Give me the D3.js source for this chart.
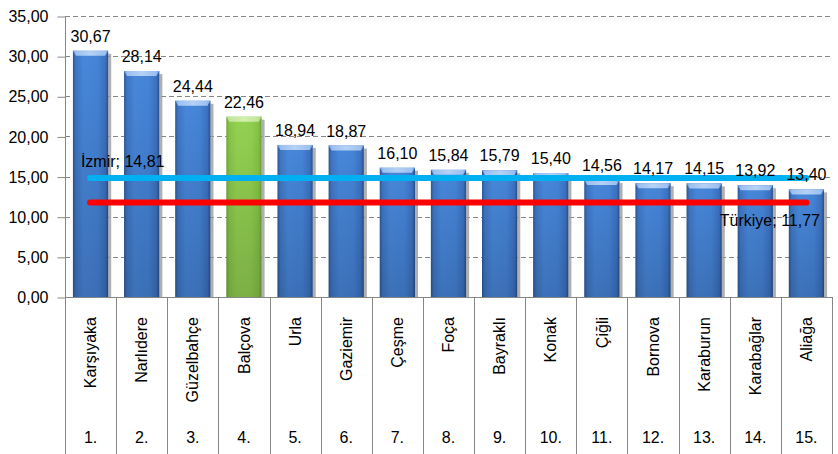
<!DOCTYPE html>
<html><head><meta charset="utf-8">
<script src="https://cdn.jsdelivr.net/npm/d3@7"></script>
<style>
html,body{margin:0;padding:0;background:#fff;}
svg text{font-family:"Liberation Sans",Arial,sans-serif;}
</style></head>
<body>
<svg id="chart" width="838" height="454"></svg>
<script>
const categories = ["Karşıyaka","Narlıdere","Güzelbahçe","Balçova","Urla","Gaziemir","Çeşme","Foça","Bayraklı","Konak","Çiğli","Bornova","Karaburun","Karabağlar","Aliağa"];
const ranks = ["1.","2.","3.","4.","5.","6.","7.","8.","9.","10.","11.","12.","13.","14.","15."];
const values = [30.67,28.14,24.44,22.46,18.94,18.87,16.10,15.84,15.79,15.40,14.56,14.17,14.15,13.92,13.40];
const highlight = ["Balçova"];
const yTicks = [0,5,10,15,20,25,30,35];
const refLines = [
  {name:"İzmir", value:14.81, color:"#00b0f0"},
  {name:"Türkiye", value:11.77, color:"#ff0000"}
];

const fmt = v => v.toFixed(2).replace(".", ",");
const svg = d3.select("#chart");
const L = 65, R = 832, T = 16, B = 297, H = 454;

const x = d3.scaleBand().domain(categories).range([L, R]).paddingInner(0.31).paddingOuter(0.155);
const y = d3.scaleLinear().domain([0, 35]).range([B, T]);

// gradients
const defs = svg.append("defs");
function hGrad(id, stops){
  const g = defs.append("linearGradient").attr("id", id).attr("x1","0").attr("x2","1").attr("y1","0").attr("y2","0");
  stops.forEach(s => g.append("stop").attr("offset", s[0]).attr("stop-color", s[1]));
}
function vGrad(id, stops){
  const g = defs.append("linearGradient").attr("id", id).attr("x1","0").attr("x2","0").attr("y1","0").attr("y2","1");
  stops.forEach(s => g.append("stop").attr("offset", s[0]).attr("stop-color", s[1][0]).attr("stop-opacity", s[1][1]));
}
hGrad("blueBody", [["0%","#2c5796"],["8%","#3e76c4"],["30%","#4887da"],["70%","#4584d8"],["92%","#3b71c0"],["100%","#284f8a"]]);
hGrad("greenBody", [["0%","#6ea83a"],["8%","#86c548"],["30%","#94d252"],["70%","#92d050"],["92%","#84c246"],["100%","#68a034"]]);
hGrad("blueTop", [["0%","#6b9de0"],["10%","#9cc0f0"],["50%","#b5d1f5"],["90%","#9cc0f0"],["100%","#6b9de0"]]);
hGrad("greenTop", [["0%","#a8d878"],["10%","#c2e69a"],["50%","#d2efb0"],["90%","#c2e69a"],["100%","#a8d878"]]);
vGrad("shade", [["0%",["#000",0]],["100%",["#000",0.16]]]);

// gridlines
svg.append("g").selectAll("line").data(yTicks.filter(t => t > 0)).join("line")
  .attr("x1", L).attr("x2", R).attr("y1", d => Math.round(y(d)) + 0.5).attr("y2", d => Math.round(y(d)) + 0.5)
  .attr("stroke", "#878787").attr("stroke-width", 1).attr("stroke-dasharray", "5,3");

// y axis
const yAxis = svg.append("g").attr("transform", `translate(${L + 0.5},0.5)`)
  .call(d3.axisLeft(y).tickValues(yTicks).tickFormat(fmt).tickSize(8).tickPadding(9));
yAxis.select(".domain").remove();
yAxis.selectAll(".tick line").attr("stroke", "#878787");
yAxis.selectAll(".tick text").attr("font-size", 16).attr("fill", "#000")
  .attr("font-family", '"Liberation Sans",Arial,sans-serif');

// table / category axis lines
const half = (x.step() - x.bandwidth()) / 2;
const bounds = categories.map(c => x(c) - half).concat([R]);
svg.append("g").selectAll("line").data(bounds).join("line")
  .attr("x1", d => Math.round(d) + 0.5).attr("x2", d => Math.round(d) + 0.5)
  .attr("y1", (d, i) => i === 0 ? T : B).attr("y2", H)
  .attr("stroke", "#878787");
svg.append("line").attr("x1", L).attr("x2", R).attr("y1", B + 0.5).attr("y2", B + 0.5).attr("stroke", "#878787");

// bars
const bars = svg.append("g").selectAll("g").data(categories).join("g");
const isG = c => highlight.includes(c);
bars.append("rect") // shadow
  .attr("x", c => x(c) + x.bandwidth()).attr("width", 3)
  .attr("y", (c, i) => y(values[i]) + 3).attr("height", (c, i) => B - y(values[i]) - 3)
  .attr("fill", "#9c9c9c").attr("opacity", 0.8);
bars.append("rect")
  .attr("x", c => x(c)).attr("width", x.bandwidth())
  .attr("y", (c, i) => y(values[i])).attr("height", (c, i) => B - y(values[i]))
  .attr("fill", c => isG(c) ? "url(#greenBody)" : "url(#blueBody)");
bars.append("rect")
  .attr("x", c => x(c)).attr("width", x.bandwidth())
  .attr("y", (c, i) => y(values[i])).attr("height", (c, i) => B - y(values[i]))
  .attr("fill", "url(#shade)");
bars.append("path") // top bevel
  .attr("d", (c, i) => {
    const x0 = x(c), x1 = x(c) + x.bandwidth(), t = y(values[i]);
    return `M${x0},${t}L${x1},${t}L${x1 - 3},${t + 5}L${x0 + 3},${t + 5}Z`;
  })
  .attr("fill", c => isG(c) ? "url(#greenTop)" : "url(#blueTop)");

// reference lines
const cx = c => x(c) + x.bandwidth() / 2;
svg.append("g").selectAll("line").data(refLines).join("line")
  .attr("x1", cx(categories[0]) - 0.5).attr("x2", cx(categories[categories.length - 1]))
  .attr("y1", d => y(d.value)).attr("y2", d => y(d.value))
  .attr("stroke", d => d.color).attr("stroke-width", 6).attr("stroke-linecap", "round");

// reference labels
svg.append("text").attr("x", x(categories[0]) + 8).attr("y", y(refLines[0].value) - 11)
  .attr("font-size", 16).attr("fill", "#000").text(`${refLines[0].name}; ${fmt(refLines[0].value)}`);
svg.append("text").attr("x", R - 12).attr("y", y(refLines[1].value) + 23).attr("text-anchor", "end")
  .attr("font-size", 16).attr("fill", "#000").text(`${refLines[1].name}; ${fmt(refLines[1].value)}`);

// value labels
svg.append("g").selectAll("text").data(categories).join("text")
  .attr("x", c => cx(c)).attr("y", (c, i) => y(values[i]) - 9)
  .attr("text-anchor", "middle").attr("font-size", 16).attr("fill", "#000")
  .text((c, i) => fmt(values[i]));

// category labels (rotated)
svg.append("g").selectAll("text").data(categories).join("text")
  .attr("transform", c => `translate(${cx(c)},317) rotate(-90)`)
  .attr("text-anchor", "end").attr("dy", "0.35em").attr("font-size", 16).attr("fill", "#000")
  .text(c => c);

// rank labels
svg.append("g").selectAll("text").data(categories).join("text")
  .attr("x", c => cx(c)).attr("y", 443).attr("text-anchor", "middle")
  .attr("font-size", 16).attr("fill", "#000")
  .text((c, i) => ranks[i]);
</script>
</body></html>
